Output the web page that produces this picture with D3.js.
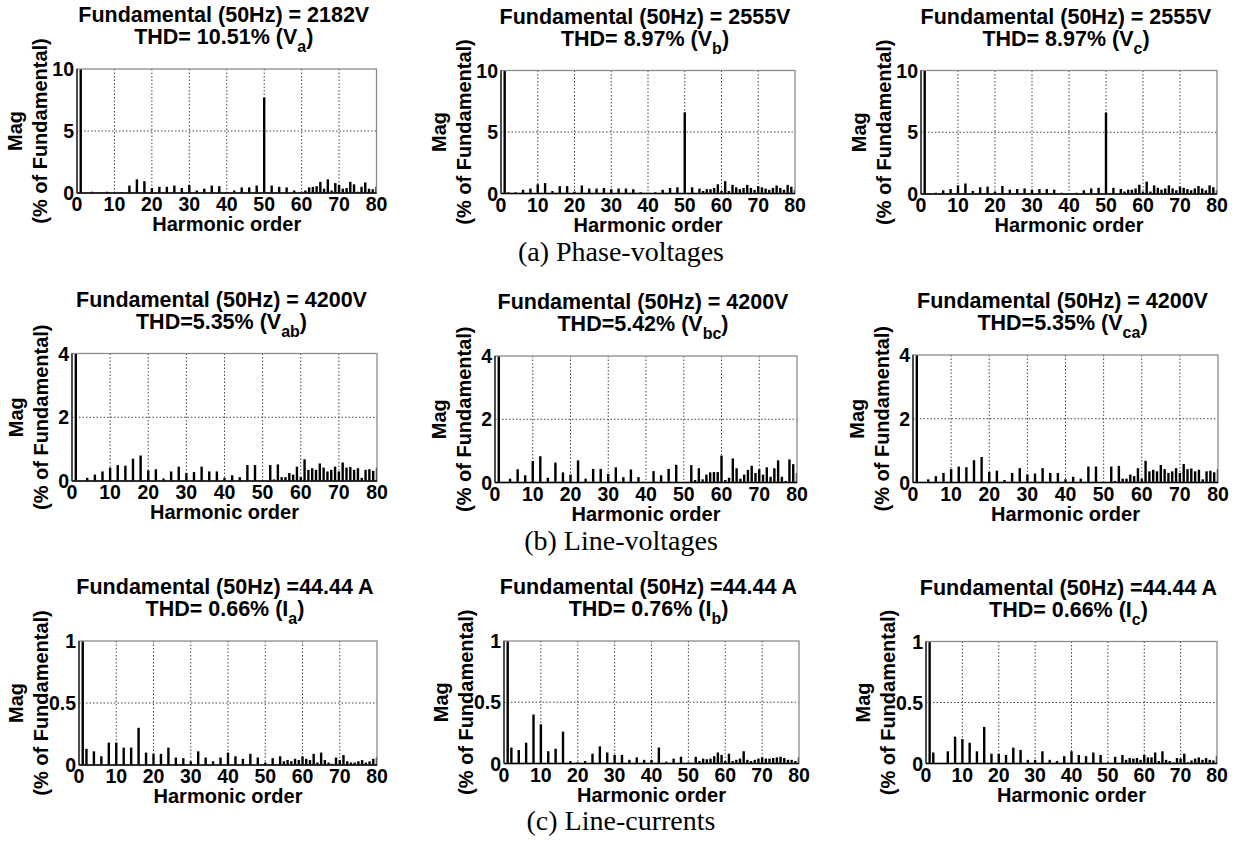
<!DOCTYPE html>
<html>
<head>
<meta charset="utf-8">
<script src="https://cdn.jsdelivr.net/npm/d3@7"></script>
<style>
  body { margin: 0; background: #fff; }
  svg text { font-family: "Liberation Sans", Arial, sans-serif; font-weight: bold; fill: #000; }
  svg text.caption { font-family: "Liberation Serif", "Times New Roman", serif; font-weight: normal; }
</style>
</head>
<body>
<svg id="chart" width="1236" height="842"></svg>
<script>
// Harmonic spectra, magnitude in % of the fundamental, index = harmonic order 0..80
const va = [
  0, 100, 0, 0, 0.1, 0, 0, 0, 0.1, 0,
  0.05, 0, 0.05, 0, 0.6, 0, 1.1, 0, 0.95, 0,
  0.4, 0, 0.5, 0, 0.5, 0, 0.6, 0, 0.4, 0,
  0.65, 0, 0.2, 0, 0.35, 0, 0.6, 0, 0.55, 0,
  0.05, 0, 0.2, 0, 0.45, 0, 0.45, 0, 0.6, 0,
  7.7, 0, 0.6, 0, 0.5, 0, 0.45, 0, 0.2, 0,
  0.1, 0.2, 0.45, 0.5, 0.55, 0.9, 0.35, 1.1, 0.2, 0.8,
  0.65, 0.35, 0.4, 0.9, 0.7, 0.1, 0.5, 0.85, 0.35, 0.3,
  0.5
];
const vb = [
  0, 100, 0.1, 0, 0.1, 0, 0.3, 0, 0.4, 0,
  0.75, 0, 0.85, 0, 0.2, 0, 0.6, 0, 0.6, 0,
  0.15, 0, 0.65, 0, 0.4, 0, 0.4, 0, 0.45, 0,
  0.35, 0, 0.4, 0, 0.4, 0, 0.35, 0, 0.1, 0,
  0.05, 0, 0.1, 0, 0.3, 0, 0.45, 0, 0.5, 0,
  6.6, 0, 0.5, 0, 0.4, 0.2, 0.35, 0.35, 0.45, 0.75,
  0.2, 1.0, 0.2, 0.7, 0.5, 0.35, 0.45, 0.7, 0.45, 0.3,
  0.6, 0.5, 0.4, 0.3, 0.45, 0.65, 0.45, 0.3, 0.7, 0.55,
  0.3
];
const vc = [
  0, 100, 0.05, 0, 0.1, 0, 0.3, 0, 0.4, 0,
  0.7, 0, 0.85, 0, 0.25, 0, 0.55, 0, 0.6, 0,
  0.2, 0, 0.65, 0, 0.35, 0, 0.4, 0, 0.45, 0,
  0.35, 0, 0.4, 0, 0.4, 0, 0.35, 0, 0.1, 0,
  0.05, 0, 0.1, 0, 0.3, 0, 0.45, 0, 0.5, 0,
  6.6, 0, 0.5, 0, 0.4, 0.2, 0.35, 0.35, 0.45, 0.75,
  0.2, 1.0, 0.2, 0.7, 0.5, 0.35, 0.45, 0.7, 0.45, 0.3,
  0.6, 0.5, 0.4, 0.3, 0.45, 0.65, 0.45, 0.3, 0.7, 0.55,
  0.3
];
const vab = [
  0, 100, 0, 0, 0.1, 0, 0.2, 0, 0.3, 0,
  0.42, 0, 0.5, 0, 0.48, 0, 0.7, 0, 0.8, 0,
  0.33, 0, 0.37, 0, 0.08, 0, 0.3, 0, 0.45, 0,
  0.25, 0, 0.28, 0, 0.45, 0, 0.3, 0, 0.3, 0,
  0.1, 0, 0.18, 0, 0.12, 0, 0.5, 0, 0.5, 0,
  0, 0, 0.5, 0.05, 0.52, 0.12, 0.12, 0.25, 0.2, 0.45,
  0.12, 0.68, 0.35, 0.4, 0.35, 0.55, 0.42, 0.3, 0.35, 0.45,
  0.3, 0.58, 0.42, 0.44, 0.35, 0.4, 0.1, 0.35, 0.37, 0.32,
  0.42
];
const vbc = [
  0, 100, 0, 0, 0.12, 0, 0.42, 0, 0.23, 0,
  0.68, 0, 0.83, 0, 0.15, 0, 0.63, 0, 0.32, 0,
  0.25, 0, 0.7, 0, 0.12, 0, 0.43, 0, 0.43, 0,
  0.27, 0, 0.48, 0, 0.17, 0, 0.41, 0, 0.17, 0,
  0, 0, 0.36, 0, 0.23, 0, 0.43, 0, 0.56, 0,
  0, 0, 0.55, 0.08, 0.45, 0.1, 0.25, 0.32, 0.33, 0.33,
  0.85, 0.08, 0.15, 0.76, 0.45, 0.12, 0.25, 0.4, 0.53, 0.3,
  0.42, 0.25, 0.48, 0.18, 0.45, 0.7, 0.18, 0.05, 0.73, 0.58,
  0.3
];
const vca = [
  0, 100, 0, 0, 0.1, 0, 0.2, 0, 0.3, 0,
  0.42, 0, 0.5, 0, 0.48, 0, 0.7, 0, 0.8, 0,
  0.33, 0, 0.37, 0, 0.08, 0, 0.3, 0, 0.45, 0,
  0.25, 0, 0.28, 0, 0.45, 0, 0.3, 0, 0.3, 0,
  0.1, 0, 0.18, 0, 0.12, 0, 0.5, 0, 0.5, 0,
  0, 0, 0.5, 0.05, 0.52, 0.12, 0.12, 0.25, 0.2, 0.45,
  0.12, 0.68, 0.35, 0.4, 0.35, 0.55, 0.42, 0.3, 0.35, 0.45,
  0.3, 0.58, 0.42, 0.44, 0.35, 0.4, 0.1, 0.35, 0.37, 0.32,
  0.42
];
const ia = [
  0, 100, 0.13, 0, 0.11, 0, 0.07, 0, 0.18, 0,
  0.18, 0, 0.14, 0, 0.14, 0, 0.30, 0, 0.1, 0,
  0.09, 0, 0.09, 0, 0.14, 0, 0.06, 0, 0.055, 0,
  0.03, 0, 0.11, 0, 0.06, 0, 0.03, 0, 0.06, 0,
  0.1, 0, 0.07, 0, 0.05, 0, 0.09, 0, 0.06, 0,
  0.02, 0, 0.055, 0, 0.07, 0.03, 0.04, 0.03, 0.05, 0.04,
  0.07, 0.05, 0.04, 0.09, 0.02, 0.1, 0.04, 0.02, 0.01, 0.06,
  0.04, 0.08, 0.03, 0.02, 0.02, 0.03, 0.04, 0.02, 0.03, 0.05,
  0.06
];
const ib = [
  0, 100, 0.13, 0, 0.11, 0, 0.17, 0, 0.40, 0,
  0.32, 0, 0.1, 0, 0.12, 0, 0.26, 0, 0.02, 0,
  0.01, 0, 0.02, 0, 0.08, 0, 0.14, 0, 0.09, 0,
  0.07, 0, 0.07, 0, 0.03, 0, 0.05, 0, 0.03, 0,
  0.03, 0, 0.13, 0, 0.015, 0, 0.04, 0, 0.055, 0,
  0.01, 0, 0.055, 0.02, 0.04, 0.035, 0.04, 0.06, 0.09, 0.07,
  0.02, 0.08, 0.02, 0.03, 0.04, 0.1, 0.03, 0.02, 0.03, 0.04,
  0.05, 0.04, 0.04, 0.045, 0.05, 0.055, 0.045, 0.03, 0.03, 0.02,
  0.05
];
const ic = [
  0, 100, 0.09, 0, 0, 0, 0.1, 0, 0.22, 0,
  0.2, 0, 0.17, 0, 0.1, 0, 0.3, 0, 0.08, 0,
  0.08, 0, 0.07, 0, 0.13, 0, 0.11, 0, 0.03, 0,
  0.03, 0, 0.1, 0, 0.03, 0, 0.02, 0, 0.06, 0,
  0.1, 0, 0.07, 0, 0.06, 0, 0.09, 0, 0.07, 0,
  0.01, 0, 0.055, 0, 0.07, 0.03, 0.045, 0.04, 0.045, 0.03,
  0.07, 0.05, 0.05, 0.09, 0.02, 0.1, 0.03, 0.02, 0.01, 0.045,
  0.04, 0.08, 0.01, 0.025, 0.04, 0.05, 0.03, 0.045, 0.03, 0.025,
  0.06
];

// Axis ticks
const harmonicTicks = [0, 10, 20, 30, 40, 50, 60, 70, 80];
const yTicksPhase = [0, 5, 10];
const yTicksLine = [0, 2, 4];
const yTicksCurrent = [0, 0.5, 1];

// Titles and captions
const fundamentalLabels = [
  "Fundamental (50Hz) = 2182V", "Fundamental (50Hz) = 2555V", "Fundamental (50Hz) = 2555V",
  "Fundamental (50Hz) = 4200V", "Fundamental (50Hz) = 4200V", "Fundamental (50Hz) = 4200V",
  "Fundamental (50Hz) =44.44 A", "Fundamental (50Hz) =44.44 A", "Fundamental (50Hz) =44.44 A"
];
const thdLabels = [
  "THD= 10.51% (", "THD= 8.97% (", "THD= 8.97% (",
  "THD=5.35% (", "THD=5.42% (", "THD=5.35% (",
  "THD= 0.66% (", "THD= 0.76% (", "THD= 0.66% ("
];
const quantitySymbols = ["V", "V", "V", "V", "V", "V", "I", "I", "I"];
const quantitySubscripts = ["a", "b", "c", "ab", "bc", "ca", "a", "b", "c"];
const captions = ["(a) Phase-voltages", "(b) Line-voltages", "(c) Line-currents"];

const spectra = [va, vb, vc, vab, vbc, vca, ia, ib, ic];
const rowTicks = [yTicksPhase, yTicksLine, yTicksCurrent];

// Layout: plot frame of each panel [left, right, top, bottom]
const frames = [
  [77, 376.5, 69, 193], [501, 795, 70.5, 193.5], [921, 1217, 70.5, 194],
  [72, 377, 353.5, 481], [495, 797, 356, 482.5], [913, 1218, 355, 482.5],
  [79, 377, 641, 765], [504, 799, 641, 763.5], [926, 1217, 641.5, 763.5]
];
const rowLabelOffsets = [[62, 36], [56, 30], [63, 37]];
const captionBaselines = [261, 550, 830];

const svg = d3.select("#chart");
const defs = svg.append("defs");

spectra.forEach((values, k) => {
  const row = Math.floor(k / 3);
  const [l, r, t, b] = frames[k];
  const yTicks = rowTicks[row];
  const yMax = d3.max(yTicks);
  const x = d3.scaleLinear().domain([0, 80]).range([l, r]);
  const y = d3.scaleLinear().domain([0, yMax]).range([b, t]);
  const g = svg.append("g");

  defs.append("clipPath").attr("id", "clip" + k)
    .append("rect").attr("x", l).attr("y", t).attr("width", r - l).attr("height", b - t);

  // dotted grid
  g.selectAll("line.gx").data(harmonicTicks.slice(1, -1)).join("line")
    .attr("x1", d => x(d)).attr("x2", d => x(d)).attr("y1", t).attr("y2", b)
    .attr("stroke", "#444").attr("stroke-width", 1).attr("stroke-dasharray", "1.5,2");
  g.selectAll("line.gy").data(yTicks.slice(1, -1)).join("line")
    .attr("x1", l).attr("x2", r).attr("y1", d => y(d)).attr("y2", d => y(d))
    .attr("stroke", "#444").attr("stroke-width", 1).attr("stroke-dasharray", "1.5,2");

  // harmonic bars
  g.append("g").attr("clip-path", `url(#clip${k})`)
    .selectAll("rect").data(values.map((v, i) => ({ h: i, v })).filter(d => d.v > 0)).join("rect")
    .attr("x", d => x(d.h) - 1.2).attr("width", 2.4)
    .attr("y", d => y(Math.min(d.v, yMax * 1.05)))
    .attr("height", d => y(0) - y(Math.min(d.v, yMax * 1.05)))
    .attr("fill", "#000");

  // frame
  g.append("rect").attr("x", l).attr("y", t).attr("width", r - l).attr("height", b - t)
    .attr("fill", "none").attr("stroke", "#8a8a8a").attr("stroke-width", 1.3);
  g.append("line").attr("x1", l).attr("x2", r).attr("y1", b).attr("y2", b)
    .attr("stroke", "#000").attr("stroke-width", 1.6);
  g.append("line").attr("x1", l).attr("x2", l).attr("y1", t).attr("y2", b)
    .attr("stroke", "#222").attr("stroke-width", 1.4);

  // tick labels
  g.selectAll("text.xt").data(harmonicTicks).join("text")
    .attr("x", d => x(d)).attr("y", b + 18)
    .attr("text-anchor", "middle").attr("font-size", 19.5)
    .text(d => d);
  g.selectAll("text.yt").data(yTicks).join("text")
    .attr("x", l - 3).attr("y", d => y(d) + 7)
    .attr("text-anchor", "end").attr("font-size", 19.5)
    .text(d => d);

  // axis labels
  g.append("text").attr("x", (l + r) / 2).attr("y", b + 38)
    .attr("text-anchor", "middle").attr("font-size", 20)
    .text("Harmonic order");
  const [outer, inner] = rowLabelOffsets[row];
  const cy = (t + b) / 2;
  g.append("text").attr("transform", `translate(${l - outer + 7},${cy}) rotate(-90)`)
    .attr("text-anchor", "middle").attr("font-size", 20).text("Mag");
  g.append("text").attr("transform", `translate(${l - inner + 6},${cy}) rotate(-90)`)
    .attr("text-anchor", "middle").attr("font-size", 20).text("(% of Fundamental)");

  // two-line title
  const tx = (l + r) / 2 - 3;
  g.append("text").attr("x", tx).attr("y", t - 47)
    .attr("text-anchor", "middle").attr("font-size", 21.5)
    .text(fundamentalLabels[k]);
  const t2 = g.append("text").attr("x", tx).attr("y", t - 25)
    .attr("text-anchor", "middle").attr("font-size", 21.5);
  t2.append("tspan").text(thdLabels[k] + quantitySymbols[k]);
  t2.append("tspan").attr("font-size", 16).attr("dy", 8).text(quantitySubscripts[k]);
  t2.append("tspan").attr("dy", -8).text(")");
});

// row captions
svg.selectAll("text.caption").data(captions).join("text")
  .attr("class", "caption")
  .attr("x", 621).attr("y", (d, i) => captionBaselines[i])
  .attr("text-anchor", "middle").attr("font-size", 28)
  .text(d => d);
</script>
</body>
</html>
